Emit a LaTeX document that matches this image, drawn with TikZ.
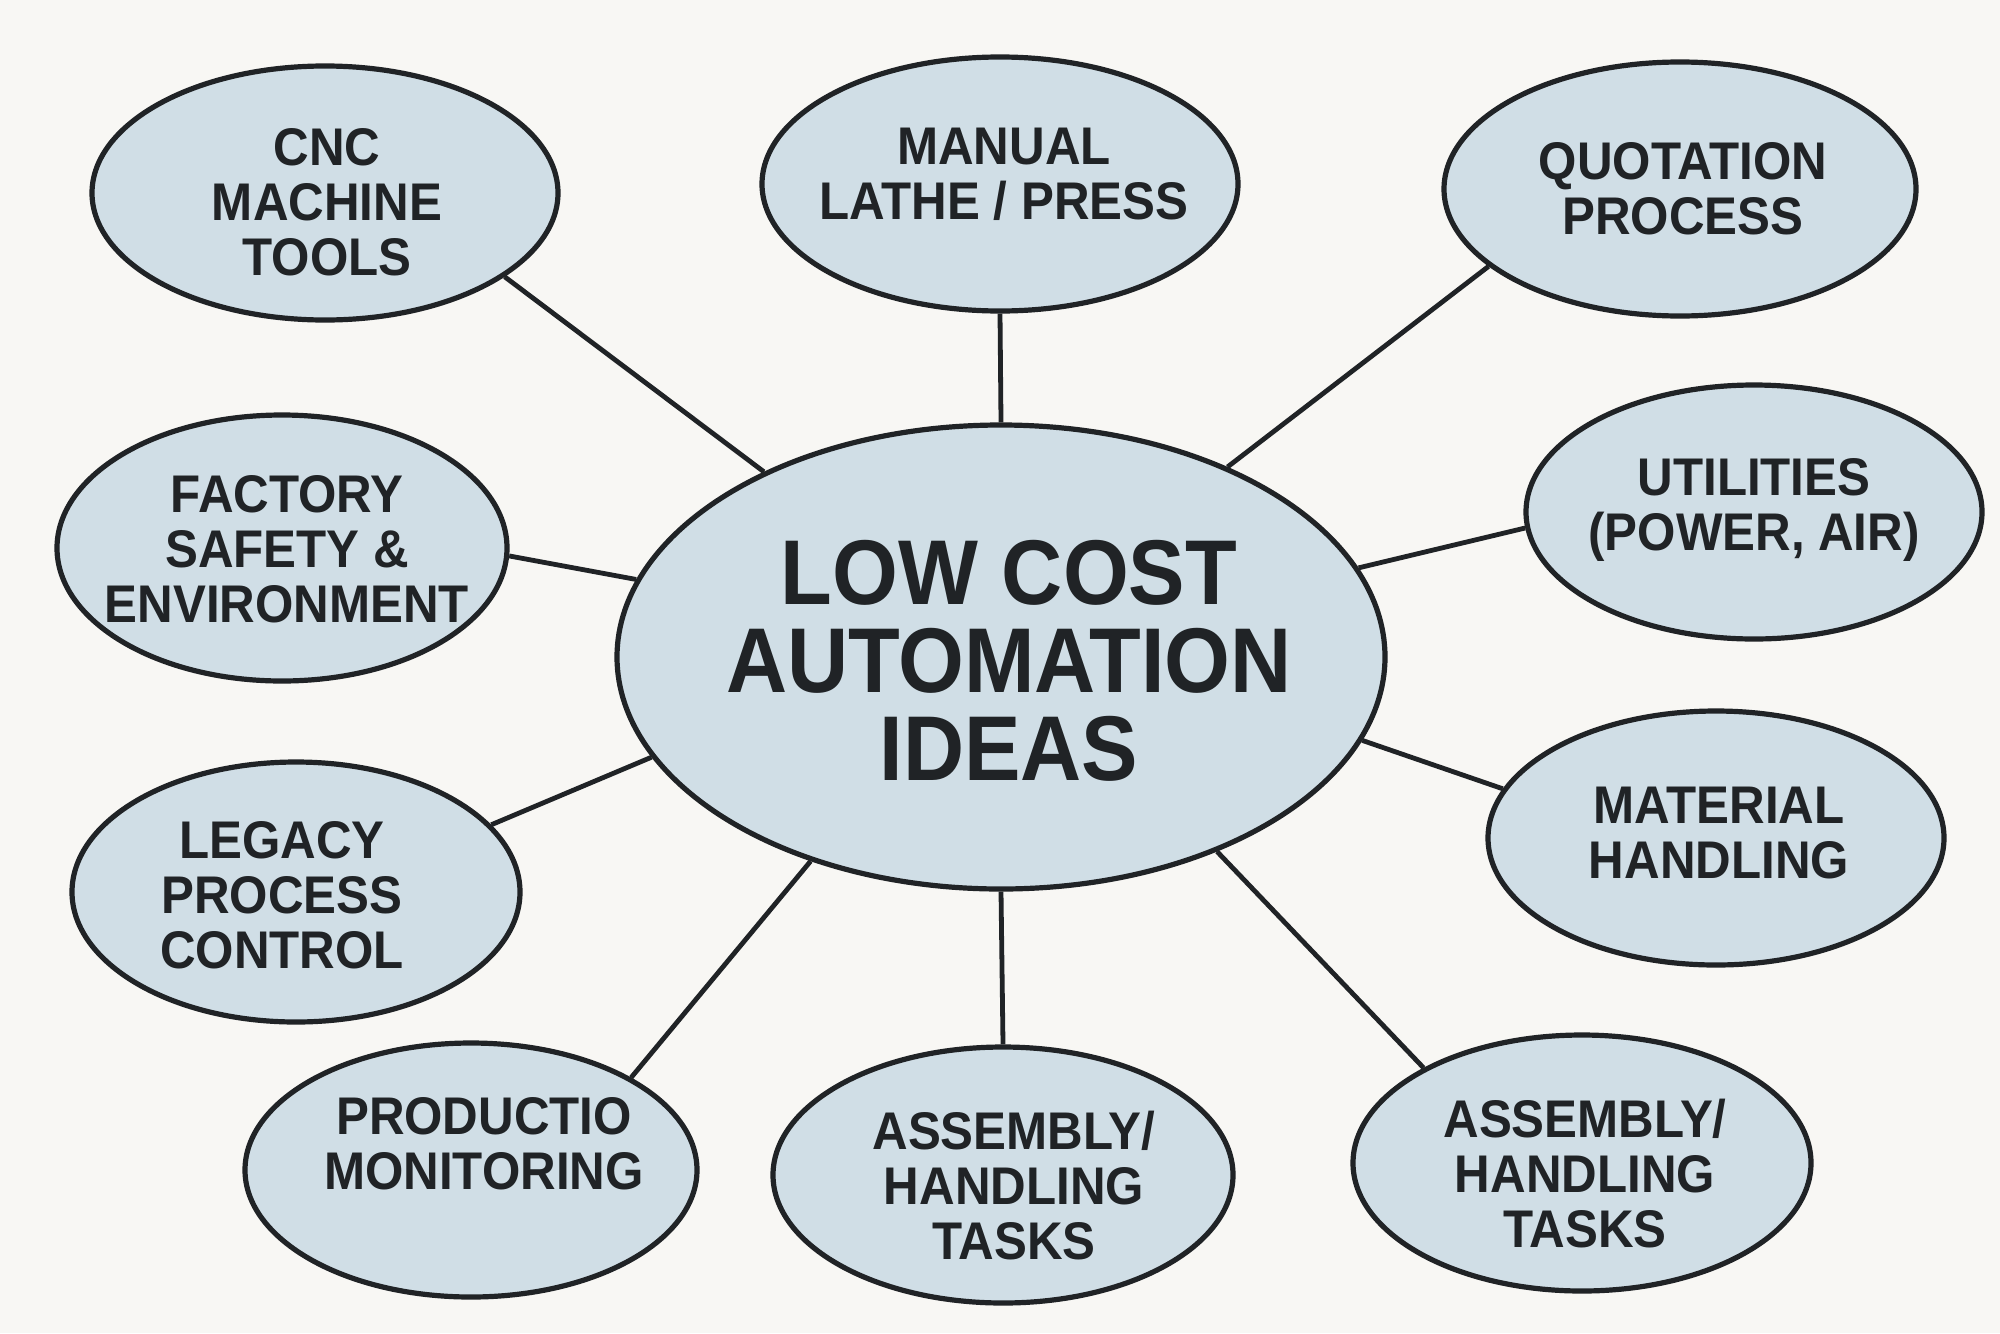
\documentclass[tikz,border=0pt]{standalone}
\usepackage{fontspec}
\setmainfont{Liberation Sans}
\newfontfamily\satfont[FakeStretch=0.93]{Liberation Sans}
\newfontfamily\ctrfont[FakeStretch=0.92]{Liberation Sans}
\usetikzlibrary{shapes.geometric}
\definecolor{bgc}{RGB}{248,247,244}
\definecolor{bubfill}{RGB}{208,222,230}
\definecolor{ink}{RGB}{32,35,38}
\tikzset{
  bub/.style={ellipse, draw=ink, line width=2.6pt, fill=bubfill, inner sep=0pt},
  sattxt/.style={text=ink, font=\satfont\bfseries\fontsize{26.5}{27.5}\selectfont, align=center, inner sep=0pt},
  ctrtxt/.style={text=ink, font=\ctrfont\bfseries\fontsize{46}{44}\selectfont, align=center, inner sep=0pt},
  link/.style={draw=ink, line width=2.4pt}
}
\begin{document}
\begin{tikzpicture}[x=0.5pt,y=-0.5pt]
\fill[bgc] (0,0) rectangle (2000,1333);
\useasboundingbox (0,0) rectangle (2000,1333);

% bubbles
\node[bub, minimum width=384pt, minimum height=232pt] (c) at (1001,657) {};
\node[bub, minimum width=233pt, minimum height=127pt] (cnc) at (325,193) {};
\node[bub, minimum width=238pt, minimum height=127pt] (man) at (1000,184) {};
\node[bub, minimum width=236pt, minimum height=127pt] (quo) at (1680,189) {};
\node[bub, minimum width=225pt, minimum height=133pt] (fac) at (282,548) {};
\node[bub, minimum width=228pt, minimum height=127pt] (uti) at (1754,512) {};
\node[bub, minimum width=224pt, minimum height=130pt] (leg) at (296,892) {};
\node[bub, minimum width=228pt, minimum height=127pt] (mat) at (1716,838) {};
\node[bub, minimum width=226pt, minimum height=127pt] (pro) at (471,1170) {};
\node[bub, minimum width=230pt, minimum height=128pt] (asm) at (1003,1175) {};
\node[bub, minimum width=229pt, minimum height=128pt] (asr) at (1582,1163) {};

% texts
\node[ctrtxt] (ct) at (1009,661) {LOW COST\\AUTOMATION\\IDEAS};
\node[sattxt] (cnct) at (327,202) {CNC\\MACHINE\\TOOLS};
\node[sattxt] (mant) at (1004,174) {MANUAL\\LATHE / PRESS};
\node[sattxt] (quot) at (1683,189) {QUOTATION\\PROCESS};
\node[sattxt] (fact) at (287,549) {FACTORY\\SAFETY \&\\ENVIRONMENT};
\node[sattxt] (utit) at (1754,510) {UTILITIES\\(POWER, AIR)};
\node[sattxt] (legt) at (282,895) {LEGACY\\PROCESS\\CONTROL};
\node[sattxt] (matt) at (1719,833) {MATERIAL\\HANDLING};
\node[sattxt] (prot) at (484,1144) {PRODUCTIO\\MONITORING};
\node[sattxt] (asmt) at (1014,1186) {ASSEMBLY/\\HANDLING\\TASKS};
\node[sattxt] (asrt) at (1585,1174) {ASSEMBLY/\\HANDLING\\TASKS};

% connectors
\draw[link] (c.142.6) -- (cnc.-25.6);
\draw[link] (c.90) -- (man.-90);
\draw[link] (c.40.1) -- (quo.-158.4);
\draw[link] (c.168.1) -- (fac.-2.5);
\draw[link] (c.14) -- (uti.184.6);
\draw[link] (c.-13.2) -- (mat.167);
\draw[link] (c.-42.2) -- (asr.149.7);
\draw[link] (c.-90) -- (asm.90);
\draw[link] (c.-133.4) -- (pro.30.9);
\draw[link] (c.-164.2) -- (leg.19.7);
\end{tikzpicture}
\end{document}
